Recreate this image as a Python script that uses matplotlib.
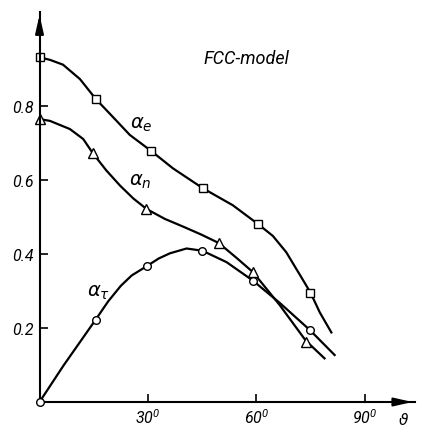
import matplotlib
matplotlib.use('Agg')
import matplotlib.pyplot as plt
import matplotlib as mpl

# curves (angle in degrees, coefficient)
e_x = [0, 2.9, 6.5, 11.2, 15.6, 19.5, 25, 31, 36.9, 45.2, 53.5, 60.5, 64.6, 68.3, 72.5, 75.0, 77.6, 80.8]
e_y = [0.932, 0.925, 0.912, 0.873, 0.819, 0.779, 0.722, 0.678, 0.632, 0.578, 0.532, 0.481, 0.449, 0.405, 0.337, 0.296, 0.242, 0.188]
n_x = [0, 2.9, 8.4, 12.1, 14.8, 18.5, 22.3, 26, 29.6, 34.7, 39.8, 44.7, 49.6, 54.5, 59.1, 66.5, 73.7, 78.9]
n_y = [0.765, 0.760, 0.738, 0.711, 0.672, 0.626, 0.585, 0.550, 0.522, 0.495, 0.474, 0.453, 0.430, 0.390, 0.351, 0.262, 0.166, 0.118]
t_x = [0, 6.6, 15.5, 19.0, 22.5, 25.5, 29.8, 33.0, 36.1, 40.7, 45.1, 51.8, 59.1, 66.5, 74.8, 81.7]
t_y = [0, 0.098, 0.222, 0.272, 0.314, 0.342, 0.368, 0.388, 0.402, 0.415, 0.409, 0.378, 0.328, 0.268, 0.195, 0.127]

# measured points (markers)
e_mx = [0, 15.6, 31, 45.2, 60.5, 75.0]
e_my = [0.932, 0.819, 0.678, 0.578, 0.481, 0.296]
n_mx = [0, 14.8, 29.6, 49.6, 59.1, 73.7]
n_my = [0.765, 0.672, 0.522, 0.430, 0.351, 0.162]
t_mx = [0, 15.5, 29.8, 45.1, 59.1, 74.8]
t_my = [0, 0.222, 0.368, 0.409, 0.328, 0.195]

xticks = [30, 60, 90]
xlabels = ['$30^0$', '$60^0$', '$90^0$']
yticks = [0.2, 0.4, 0.6, 0.8]
ylabels = ['0.2', '0.4', '0.6', '0.8']

mpl.rcParams['font.family'] = ['Roboto', 'DejaVu Sans']
mpl.rcParams['font.style'] = 'italic'
mpl.rcParams['mathtext.fontset'] = 'custom'
mpl.rcParams['mathtext.rm'] = 'Roboto:italic'
mpl.rcParams['mathtext.it'] = 'Roboto:italic'
mpl.rcParams['mathtext.default'] = 'it'

fig = plt.figure(figsize=(4.24, 4.27), dpi=100)
ax = fig.add_axes([0.0932, 0.0562, 0.886, 0.913])

lw = 1.6
ax.plot(e_x, e_y, 'k-', lw=lw)
ax.plot(n_x, n_y, 'k-', lw=lw)
ax.plot(t_x, t_y, 'k-', lw=lw)
ax.plot(e_mx, e_my, 's', ms=6, mfc='white', mec='k', mew=1.0, clip_on=False)
ax.plot(n_mx, n_my, '^', ms=7, mfc='white', mec='k', mew=1.0, clip_on=False)
ax.plot(t_mx, t_my, 'o', ms=5.5, mfc='white', mec='k', mew=1.0, clip_on=False, zorder=5)

ax.set_xlim(0, 104)
ax.set_ylim(0, 1.054)
for s in ['top', 'right']:
    ax.spines[s].set_visible(False)
for s in ['left', 'bottom']:
    ax.spines[s].set_linewidth(1.5)

ax.set_xticks(xticks)
ax.set_xticklabels(xlabels, fontsize=11.5)
ax.set_yticks(yticks)
ax.set_yticklabels(ylabels, fontsize=11.5)
ax.tick_params(direction='in', length=6, width=1.2, pad=4)
ax.tick_params(axis='x', pad=4)

arr = dict(arrowstyle='-|>,head_length=1.1,head_width=0.25', color='k', lw=1.5)
ax.annotate('', xy=(1.0, 0), xytext=(0.94, 0), xycoords='axes fraction', arrowprops=arr)
ax.annotate('', xy=(0, 1.0), xytext=(0, 0.94), xycoords='axes fraction', arrowprops=arr)

ax.text(28.1, 0.751, r'$\alpha_e$', fontsize=14, ha='center', va='center', math_fontfamily='dejavusans')
ax.text(27.8, 0.597, r'$\alpha_n$', fontsize=14, ha='center', va='center', math_fontfamily='dejavusans')
ax.text(16.4, 0.297, r'$\alpha_\tau$', fontsize=14, ha='center', va='center', math_fontfamily='dejavusans')
ax.text(57.4, 0.93, 'FCC-model', fontsize=13, ha='center', va='center')
ax.text(100.8, -0.045, r'$\vartheta$', fontsize=11, ha='center', va='center', math_fontfamily='dejavusans')

fig.savefig('out.png', dpi=100)
